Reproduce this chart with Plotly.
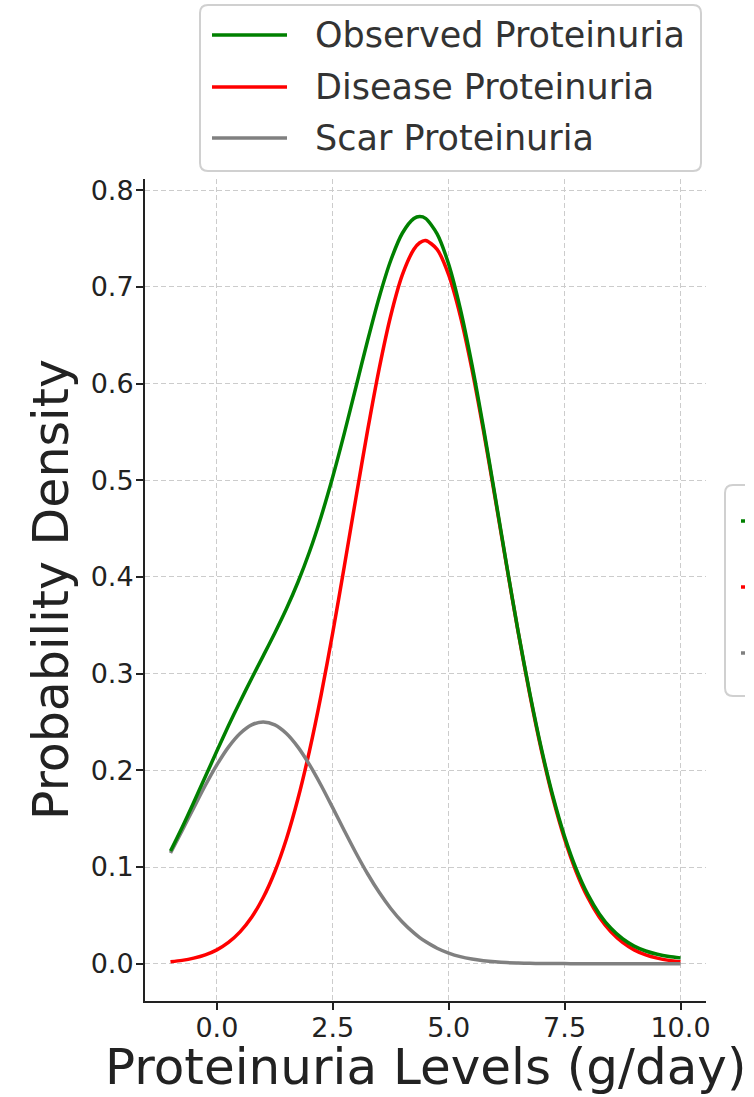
import plotly.graph_objects as go

# Proteinuria levels (g/day) at which each density curve is sampled
x_levels = [-1.0, -0.75, -0.5, -0.25, 0.0, 0.25, 0.5, 0.75, 1.0, 1.25, 1.5,
            1.75, 2.0, 2.25, 2.5, 2.75, 3.0, 3.25, 3.5, 3.75, 4.0, 4.25, 4.375,
            4.5, 4.75, 5.0, 5.25, 5.5, 5.75, 6.0, 6.25, 6.5, 6.75, 7.0, 7.25,
            7.5, 7.75, 8.0, 8.25, 8.5, 8.75, 9.0, 9.25, 9.5, 9.75, 10.0]

observed = [0.1165, 0.1409, 0.1668, 0.1934, 0.2199, 0.2460, 0.2710, 0.2950,
            0.3184, 0.3421, 0.3671, 0.3948, 0.4263, 0.4626, 0.5036, 0.5488,
            0.5965, 0.6443, 0.6891, 0.7273, 0.7555, 0.7707, 0.7727, 0.7709,
            0.7549, 0.7234, 0.6775, 0.6201, 0.5544, 0.4839, 0.4124, 0.3432,
            0.2797, 0.2224, 0.1729, 0.1316, 0.0981, 0.0717, 0.0515, 0.0366,
            0.0258, 0.0182, 0.0131, 0.0097, 0.0074, 0.0060]

disease = [0.0020, 0.0034, 0.0057, 0.0091, 0.0143, 0.0220, 0.0329, 0.0480,
           0.0684, 0.0951, 0.1290, 0.1708, 0.2207, 0.2783, 0.3425, 0.4113,
           0.4820, 0.5513, 0.6153, 0.6702, 0.7124, 0.7389, 0.7457, 0.7480,
           0.7389, 0.7124, 0.6702, 0.6153, 0.5513, 0.4820, 0.4113, 0.3425,
           0.2783, 0.2207, 0.1708, 0.1290, 0.0951, 0.0684, 0.0480, 0.0329,
           0.0220, 0.0143, 0.0091, 0.0057, 0.0034, 0.0020]

scar = [0.1145, 0.1375, 0.1611, 0.1843, 0.2056, 0.2240, 0.2381, 0.2470,
        0.2500, 0.2470, 0.2381, 0.2240, 0.2056, 0.1843, 0.1611, 0.1375,
        0.1145, 0.0930, 0.0738, 0.0571, 0.0431, 0.0318, 0.0270, 0.0229,
        0.0160, 0.0110, 0.0073, 0.0048, 0.0031, 0.0019, 0.0011, 0.0007,
        0.0004, 0.0002, 0.0001, 0.0001, 0.0000, 0.0000, 0.0000, 0.0000,
        0.0000, 0.0000, 0.0000, 0.0000, 0.0000, 0.0000]

series_names = ["Observed Proteinuria", "Disease Proteinuria", "Scar Proteinuria"]
series_colors = ["#008000", "#ff0000", "#808080"]

x_ticks = [0.0, 2.5, 5.0, 7.5, 10.0]
y_ticks = [0.0, 0.1, 0.2, 0.3, 0.4, 0.5, 0.6, 0.7, 0.8]

FONT = "DejaVu Sans"
W, H = 754, 1097
L, R, T, B = 145, 706, 179, 1001   # plot area in pixels


def px_x(px):
    return (px - L) / (R - L)


def px_y(py):
    return (B - py) / (B - T)


fig = go.Figure()

# draw order: disease, scar, observed on top
for name, ys, col in [(series_names[1], disease, series_colors[1]),
                      (series_names[2], scar, series_colors[2]),
                      (series_names[0], observed, series_colors[0])]:
    fig.add_trace(go.Scatter(
        x=x_levels, y=ys, name=name, mode="lines",
        line=dict(color=col, width=3.5, shape="spline", smoothing=0.8),
        showlegend=False, hoverinfo="x+y+name",
    ))


def rounded_box(x0, y0, x1, y1, r, open_right=False):
    pts = []
    if open_right:
        pts.append(f"M{px_x(x1)},{px_y(y0)}")
    else:
        pts.append(f"M{px_x(x1 - r)},{px_y(y0)}")
    pts.append(f"L{px_x(x0 + r)},{px_y(y0)}")
    pts.append(f"Q{px_x(x0)},{px_y(y0)} {px_x(x0)},{px_y(y0 + r)}")
    pts.append(f"L{px_x(x0)},{px_y(y1 - r)}")
    pts.append(f"Q{px_x(x0)},{px_y(y1)} {px_x(x0 + r)},{px_y(y1)}")
    if open_right:
        pts.append(f"L{px_x(x1)},{px_y(y1)}")
    else:
        pts.append(f"L{px_x(x1 - r)},{px_y(y1)}")
        pts.append(f"Q{px_x(x1)},{px_y(y1)} {px_x(x1)},{px_y(y1 - r)}")
        pts.append(f"L{px_x(x1)},{px_y(y0 + r)}")
        pts.append(f"Q{px_x(x1)},{px_y(y0)} {px_x(x1 - r)},{px_y(y0)}")
        pts.append("Z")
    return " ".join(pts)


shapes = []
annotations = []

# main legend above the plot
shapes.append(dict(type="path", xref="paper", yref="paper",
                   path=rounded_box(200, 5, 701, 171, 8),
                   line=dict(color="#d0d0d0", width=2), fillcolor="rgba(255,255,255,0.8)",
                   layer="above"))
legend_rows = [35, 87, 138]
for name, col, yy in zip(series_names, series_colors, legend_rows):
    shapes.append(dict(type="line", xref="paper", yref="paper",
                       x0=px_x(212), x1=px_x(287), y0=px_y(yy), y1=px_y(yy),
                       line=dict(color=col, width=3.5)))
    annotations.append(dict(text=name, xref="paper", yref="paper",
                            x=px_x(313), y=px_y(yy), xanchor="left", yanchor="middle",
                            showarrow=False, font=dict(family=FONT, size=35, color="#333333")))

# second legend at the right edge, cut off by the figure border
shapes.append(dict(type="path", xref="paper", yref="paper",
                   path=rounded_box(725, 485, 745, 696, 8, open_right=True),
                   line=dict(color="#d0d0d0", width=2), layer="above"))
for col, yy in zip(series_colors, [521, 587, 653]):
    shapes.append(dict(type="line", xref="paper", yref="paper",
                       x0=px_x(741), x1=px_x(745), y0=px_y(yy), y1=px_y(yy),
                       line=dict(color=col, width=3.5)))

# axis titles
annotations.append(dict(text="Proteinuria Levels (g/day)", xref="paper", yref="paper",
                        x=px_x(425), y=px_y(1067), xanchor="center", yanchor="middle",
                        showarrow=False, font=dict(family=FONT, size=50, color="#222222")))
annotations.append(dict(text="Probability Density", xref="paper", yref="paper",
                        x=px_x(51), y=px_y(590), xanchor="center", yanchor="middle",
                        textangle=-90, showarrow=False,
                        font=dict(family=FONT, size=49, color="#222222")))

axis_common = dict(
    showgrid=True, gridcolor="#cccccc", gridwidth=1.2, griddash="5px,3px",
    zeroline=False, showline=True, linecolor="#222222", linewidth=2,
    ticks="outside", ticklen=7, tickwidth=2, tickcolor="#222222",
    tickfont=dict(family=FONT, size=27, color="#222222"),
    tickformat=".1f", mirror=False,
)

fig.update_layout(
    width=W, height=H,
    margin=dict(l=L, r=W - R, t=T, b=H - B, pad=0),
    paper_bgcolor="white", plot_bgcolor="white",
    showlegend=False,
    xaxis=dict(range=[-1.55, 10.55], tickvals=x_ticks, ticklabelstandoff=-5, **axis_common),
    yaxis=dict(range=[-0.0386, 0.8116], tickvals=y_ticks, ticklabelstandoff=-3, **axis_common),
    shapes=shapes, annotations=annotations,
    font=dict(family=FONT),
)

fig.write_html("out.html")
